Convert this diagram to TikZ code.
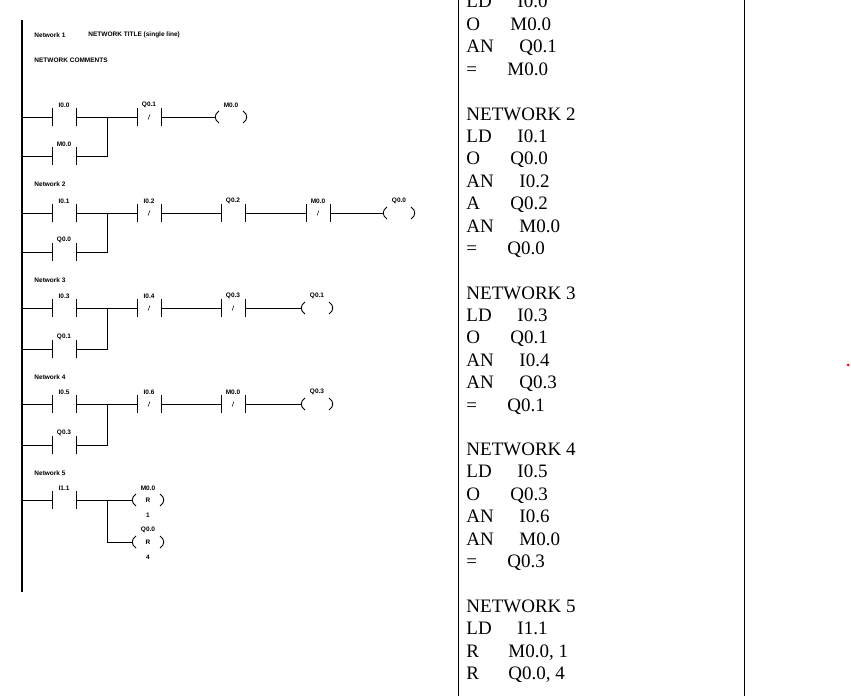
\documentclass[tikz,border=0pt]{standalone}
\usepackage{fontspec}
\setmainfont{Liberation Serif}
\newfontfamily\lsans{Liberation Sans}
\begin{document}
\begin{tikzpicture}[x=1pt,y=-1pt,line width=0.9pt,
  lbl/.style={font=\lsans\bfseries\fontsize{6.5}{7}\selectfont,inner sep=0pt},
  stl/.style={font=\fontsize{19}{21}\selectfont,anchor=base west,inner sep=0pt},
  pics/contact/.style={code={
    \draw (-12,-9)--(-12,9) (12,-9)--(12,9);
    \node[lbl] at (0,-12) {#1};}},
  pics/ncontact/.style={code={
    \draw (-12,-9)--(-12,9) (12,-9)--(12,9);
    \draw[line width=0.5pt] (-1,2.5)--(1,-2.5);
    \node[lbl] at (0,-12) {#1};}},
  pics/coil/.style={code={
    \draw (-12,-6) .. controls (-17,-3) and (-17,3) .. (-12,6);
    \draw (12,-6) .. controls (17,-3) and (17,3) .. (12,6);
    \node[lbl] at (0,-12) {#1};}}
]
\useasboundingbox (0,0) rectangle (851,696);
% rail
\draw[line width=1.8pt] (22,20)--(22,592);
% Network 1
\node[lbl,anchor=west] (n1) at (34,35) {Network 1};
\node[lbl,anchor=west] (n1t) at (88,35) {NETWORK TITLE (single line)};
\node[lbl,anchor=west] (n1c) at (34,60) {NETWORK COMMENTS};
\pic at (64,117) {contact=I0.0};
\pic at (64,156) {contact=M0.0};
\pic at (149,117) {ncontact=Q0.1};
\pic at (231,117) {coil=M0.0};
\draw (22,117)--(52,117) (76,117)--(137,117) (161,117)--(216,117);
\draw (22,156)--(52,156) (76,156)--(107,156)--(107,117);
% Network 2
\node[lbl,anchor=west] (n2) at (34,184) {Network 2};
\pic at (64,213) {contact=I0.1};
\pic at (64,252) {contact=Q0.0};
\pic at (149,213) {ncontact=I0.2};
\pic at (233,213) {contact=Q0.2};
\pic at (318,213) {ncontact=M0.0};
\pic at (399,213) {coil=Q0.0};
\draw (22,213)--(52,213) (76,213)--(137,213) (161,213)--(221,213) (245,213)--(306,213) (330,213)--(384,213);
\draw (22,252)--(52,252) (76,252)--(107,252)--(107,213);
% Network 3
\node[lbl,anchor=west] (n3) at (34,280) {Network 3};
\pic at (64,308) {contact=I0.3};
\pic at (64,349) {contact=Q0.1};
\pic at (149,308) {ncontact=I0.4};
\pic at (233,308) {ncontact=Q0.3};
\pic at (317,308) {coil=Q0.1};
\draw (22,308)--(52,308) (76,308)--(137,308) (161,308)--(221,308) (245,308)--(302,308);
\draw (22,349)--(52,349) (76,349)--(107,349)--(107,308);
% Network 4
\node[lbl,anchor=west] (n4) at (34,377) {Network 4};
\pic at (64,404) {contact=I0.5};
\pic at (64,445) {contact=Q0.3};
\pic at (149,404) {ncontact=I0.6};
\pic at (233,404) {ncontact=M0.0};
\pic at (317,404) {coil=Q0.3};
\draw (22,404)--(52,404) (76,404)--(137,404) (161,404)--(221,404) (245,404)--(302,404);
\draw (22,445)--(52,445) (76,445)--(107,445)--(107,404);
% Network 5
\node[lbl,anchor=west] (n5) at (34,473) {Network 5};
\pic at (64,500) {contact=I1.1};
\pic at (148,500) {coil=M0.0};
\pic at (148,542) {coil=Q0.0};
\node[lbl] (r1) at (148,500) {R};
\node[lbl] (r2) at (148,542) {R};
\node[lbl] (c1) at (148,515) {1};
\node[lbl] (c2) at (148,557) {4};
\draw (22,500)--(52,500) (76,500)--(133,500);
\draw (107,500)--(107,542)--(133,542);
% table
\draw (458,0)--(458,696) (744,0)--(744,696);
\foreach \m/\o/\ox/\y in {LD/I0.0/517/7, O/M0.0/510/30, AN/Q0.1/519/52, =/M0.0/507/75,
  LD/I0.1/517/142, O/Q0.0/510/164, AN/I0.2/519/187, A/Q0.2/510/209, AN/M0.0/519/232, =/Q0.0/507/254,
  LD/I0.3/517/321, O/Q0.1/510/343, AN/I0.4/519/366, AN/Q0.3/519/388, =/Q0.1/507/411,
  LD/I0.5/517/477, O/Q0.3/510/500, AN/I0.6/519/522, AN/M0.0/519/545, =/Q0.3/507/567,
  LD/I1.1/517/634, R/{M0.0, 1}/508/657, R/{Q0.0, 4}/508/679}{
  \node[stl] at (466,\y) {\m};
  \node[stl] at (\ox,\y) {\o};
}
\foreach \t/\y in {2/120,3/299,4/455,5/612}{
  \node[stl] at (466,\y) {NETWORK \t};
}
\fill[red] (848,365) circle (1.5);
\end{tikzpicture}
\end{document}
